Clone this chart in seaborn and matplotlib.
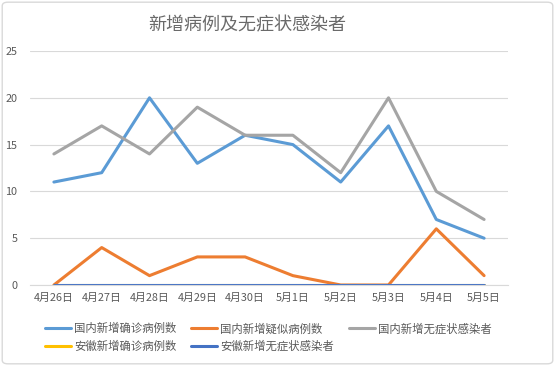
import matplotlib
matplotlib.use("Agg")
import matplotlib.pyplot as plt
import seaborn as sns
import pandas as pd
from matplotlib.patches import FancyBboxPatch

dates = ["4月26日", "4月27日", "4月28日", "4月29日", "4月30日",
         "5月1日", "5月2日", "5月3日", "5月4日", "5月5日"]
series_names = ["国内新增确诊病例数", "国内新增疑似病例数", "国内新增无症状感染者",
                "安徽新增确诊病例数", "安徽新增无症状感染者"]
domestic_confirmed = [11, 12, 20, 13, 16, 15, 11, 17, 7, 5]
domestic_suspected = [0, 4, 1, 3, 3, 1, 0, 0, 6, 1]
domestic_asymptomatic = [14, 17, 14, 19, 16, 16, 12, 20, 10, 7]
anhui_confirmed = [0, 0, 0, 0, 0, 0, 0, 0, 0, 0]
anhui_asymptomatic = [0, 0, 0, 0, 0, 0, 0, 0, 0, 0]
colors = ["#5B9BD5", "#ED7D31", "#A5A5A5", "#FFC000", "#4472C4"]
title = "新增病例及无症状感染者"

values = [domestic_confirmed, domestic_suspected, domestic_asymptomatic,
          anhui_confirmed, anhui_asymptomatic]
rows = []
for name, vals in zip(series_names, values):
    for d, v in zip(dates, vals):
        rows.append({"date": d, "value": v, "series": name})
df = pd.DataFrame(rows)

sns.set_style("white")
plt.rcParams['font.family'] = ['Noto Sans CJK SC', 'DejaVu Sans']

fig = plt.figure(figsize=(5.55, 3.66), dpi=100)
ax = fig.add_axes([30 / 555, 1 - 285 / 366, 478 / 555, 234 / 366])

sns.lineplot(data=df, x="date", y="value", hue="series", hue_order=series_names,
             palette=colors, linewidth=2.2, sort=False, ax=ax, legend=True)

ax.set_xlim(-0.5, len(dates) - 0.5)
ax.set_ylim(0, 25)
ax.set_yticks([0, 5, 10, 15, 20, 25])
ax.yaxis.grid(True, color="#d9d9d9", linewidth=0.8)
ax.set_axisbelow(True)
for s in ["top", "right", "left"]:
    ax.spines[s].set_visible(False)
ax.spines["bottom"].set_color("#d9d9d9")
ax.spines["bottom"].set_linewidth(0.8)
ax.tick_params(axis="both", length=0, labelsize=7.8, colors="#595959")
ax.tick_params(axis="y", pad=9)
ax.tick_params(axis="x", pad=6)
ax.set_xlabel("")
ax.set_ylabel("")

handles, labels = ax.get_legend_handles_labels()
order = [0, 3, 1, 4, 2]
ax.get_legend().remove()
leg = fig.legend([handles[i] for i in order], [labels[i] for i in order],
                 ncol=3, loc="center left", bbox_to_anchor=(45 / 555, 1 - 337.5 / 366),
                 frameon=False, fontsize=8.2, handlelength=2.3, handletextpad=0.25,
                 columnspacing=1.3, labelspacing=0.55, borderaxespad=0, borderpad=0)
for t in leg.get_texts():
    t.set_color("#595959")
for l in leg.get_lines():
    l.set_linewidth(2.2)

fig.text(247 / 555, 1 - 25 / 366, title, ha="center", va="center", fontsize=13, color="#6a6a6a")

border = FancyBboxPatch((0.004, 0.006), 0.992, 0.988, boxstyle="round,pad=0,rounding_size=0.01",
                        transform=fig.transFigure, fill=False, edgecolor="#d9d9d9", linewidth=1)
fig.patches.append(border)

fig.savefig("out.png", dpi=100)
